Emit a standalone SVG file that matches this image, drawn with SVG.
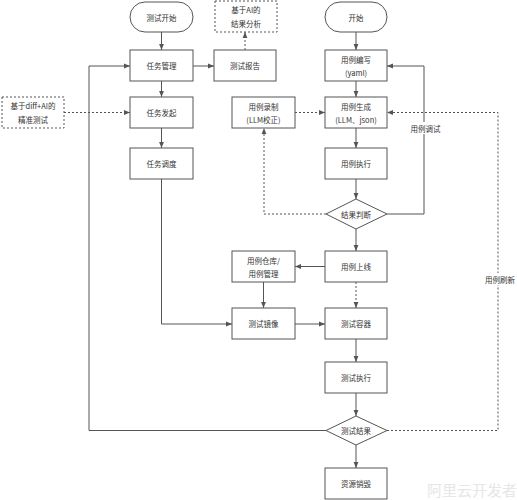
<svg xmlns="http://www.w3.org/2000/svg" width="517" height="500" viewBox="0 0 517 500">
<defs>
<marker id="ah" viewBox="0 0 10 10" refX="10" refY="5" markerWidth="6" markerHeight="6" orient="auto" markerUnits="userSpaceOnUse">
<path d="M0,1 L10,5 L0,9 Z" fill="#555"/>
</marker>
</defs>
<style>
.n{fill:#fff;stroke:#555;stroke-width:1}
.d{fill:#fff;stroke:#555;stroke-width:1;stroke-dasharray:2 2}
.t{font-family:"Noto Sans CJK SC","Liberation Sans",sans-serif;font-size:7.5px;fill:#333;text-anchor:middle;dominant-baseline:central}
.c{fill:none;stroke:#555;stroke-width:1;marker-end:url(#ah)}
.cn{fill:none;stroke:#555;stroke-width:1}
.cd{fill:none;stroke:#555;stroke-width:1;stroke-dasharray:2 2;marker-end:url(#ah)}
.cdn{fill:none;stroke:#555;stroke-width:1;stroke-dasharray:2 2}
.lb{fill:#fff}
</style>
<rect width="517" height="500" fill="#fff"/>
<g id="connectors">
<path class="c" d="M161.5,32 V50"/>
<path class="c" d="M161.5,81 V97"/>
<path class="c" d="M161.5,128 V148"/>
<path class="c" d="M161.5,179 V324 H232"/>
<path class="c" d="M193,66 H214"/>
<path class="cd" d="M245,50 V32"/>
<path class="cd" d="M64,112.5 H130"/>
<path class="c" d="M356,32 V50"/>
<path class="c" d="M356,81 V97"/>
<path class="c" d="M356,128 V148"/>
<path class="c" d="M356,179 V199"/>
<path class="c" d="M387,214 H424 V66 H387"/>
<path class="cd" d="M326,214 H264 V128"/>
<path class="cd" d="M295,112.5 H325"/>
<path class="c" d="M356,229 V251"/>
<path class="c" d="M325,266.5 H295"/>
<path class="c" d="M263.5,282 V308"/>
<path class="c" d="M295,324 H325"/>
<path class="cd" d="M356,282 V308"/>
<path class="c" d="M356,339 V362"/>
<path class="c" d="M356,393 V416"/>
<path class="c" d="M326,430.5 H89 V66 H130"/>
<path class="cd" d="M387,430.5 H498 V112.5 H387"/>
<path class="c" d="M356,445 V468"/>
<rect class="lb" x="409" y="122" width="32" height="12"/>
<text class="t" x="425.5" y="128">用例调试</text>
<rect class="lb" x="484" y="273" width="32" height="12"/>
<text class="t" x="500" y="279">用例刷新</text>
</g>
<g id="n-test-start"><rect class="n" x="130" y="2" width="63" height="30" rx="15"/><text class="t" x="161.5" y="17">测试开始</text></g>
<g id="n-task-mgmt"><rect class="n" x="130" y="50" width="63" height="31"/><text class="t" x="161.5" y="65.5">任务管理</text></g>
<g id="n-task-launch"><rect class="n" x="130" y="97" width="63" height="31"/><text class="t" x="161.5" y="112.5">任务发起</text></g>
<g id="n-task-sched"><rect class="n" x="130" y="148" width="63" height="31"/><text class="t" x="161.5" y="163.5">任务调度</text></g>
<g id="n-diff-ai"><rect class="d" x="2" y="97" width="62" height="31"/><text class="t" x="33" y="105.5">基于diff+AI的</text><text class="t" x="33" y="119.5">精准测试</text></g>
<g id="n-report"><rect class="n" x="214" y="50" width="62" height="31"/><text class="t" x="245" y="65.5">测试报告</text></g>
<g id="n-ai-analysis"><rect class="d" x="215" y="1" width="62" height="31"/><text class="t" x="246" y="9.5">基于AI的</text><text class="t" x="246" y="23.5">结果分析</text></g>
<g id="n-start"><rect class="n" x="325" y="2" width="62" height="30" rx="15"/><text class="t" x="356" y="17">开始</text></g>
<g id="n-case-write"><rect class="n" x="325" y="50" width="62" height="31"/><text class="t" x="356" y="59">用例编写</text><text class="t" x="356" y="72.5">(yaml)</text></g>
<g id="n-case-gen"><rect class="n" x="325" y="97" width="62" height="31"/><text class="t" x="356" y="106">用例生成</text><text class="t" x="356" y="119.5">(LLM、json)</text></g>
<g id="n-case-record"><rect class="n" x="232" y="97" width="63" height="31"/><text class="t" x="263.5" y="106">用例录制</text><text class="t" x="263.5" y="119.5">(LLM校正)</text></g>
<g id="n-case-exec"><rect class="n" x="325" y="148" width="62" height="31"/><text class="t" x="356" y="163.5">用例执行</text></g>
<g id="n-result-judge"><path class="n" d="M356,199 L387,214 L356,229 L326,214 Z"/><text class="t" x="356" y="214">结果判断</text></g>
<g id="n-case-online"><rect class="n" x="325" y="251" width="62" height="31"/><text class="t" x="356" y="266.5">用例上线</text></g>
<g id="n-case-repo"><rect class="n" x="232" y="251" width="63" height="31"/><text class="t" x="263.5" y="260">用例仓库/</text><text class="t" x="263.5" y="273.5">用例管理</text></g>
<g id="n-test-image"><rect class="n" x="232" y="308" width="63" height="31"/><text class="t" x="263.5" y="323.5">测试镜像</text></g>
<g id="n-test-container"><rect class="n" x="325" y="308" width="62" height="31"/><text class="t" x="356" y="323.5">测试容器</text></g>
<g id="n-test-exec"><rect class="n" x="325" y="362" width="62" height="31"/><text class="t" x="356" y="377.5">测试执行</text></g>
<g id="n-test-result"><path class="n" d="M356,416 L387,430.5 L356,445 L326,430.5 Z"/><text class="t" x="356" y="430.5">测试结果</text></g>
<g id="n-destroy"><rect class="n" x="325" y="468" width="62" height="31"/><text class="t" x="356" y="483.5">资源销毁</text></g>
<text x="472" y="489" style="font-family:'Noto Sans CJK SC',sans-serif;font-size:15px;fill:#e6e6e6;text-anchor:middle;dominant-baseline:central">阿里云开发者</text>
</svg>
